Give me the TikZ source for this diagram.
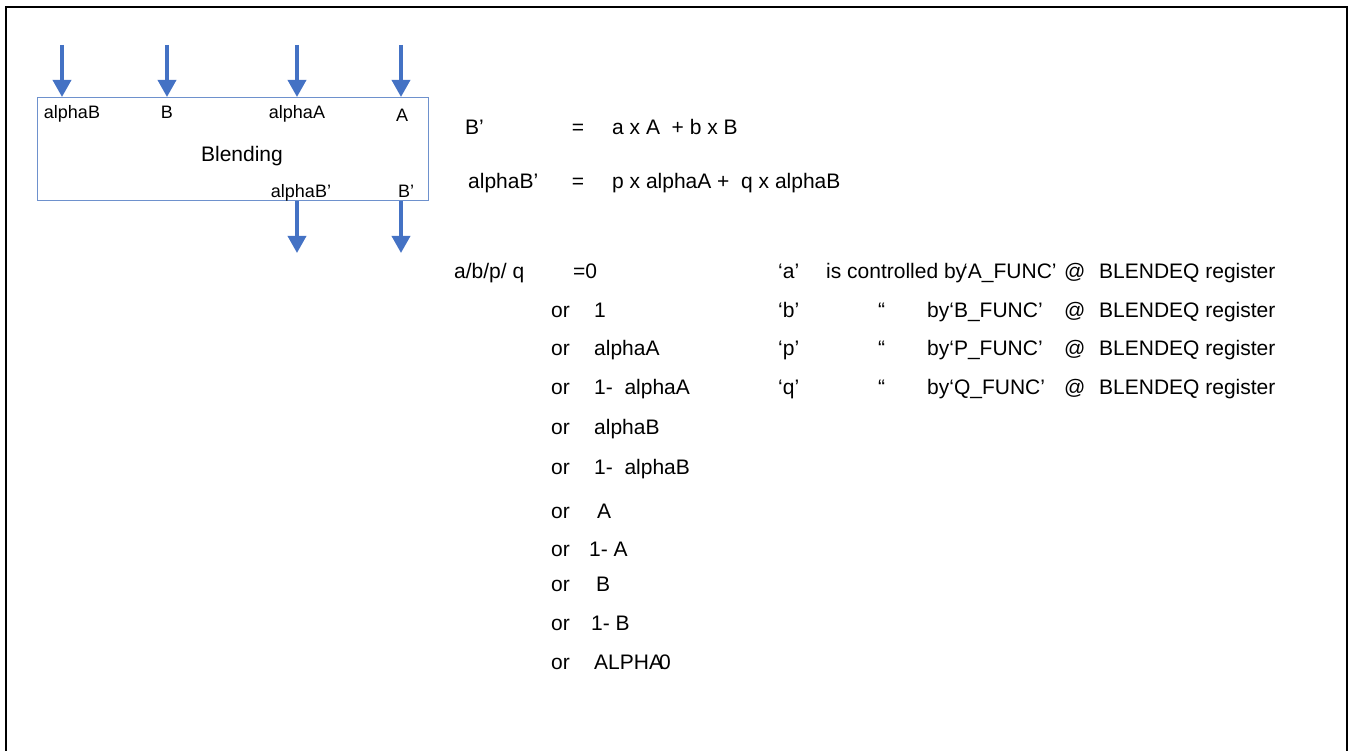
\documentclass[tikz,border=0pt]{standalone}
\usepackage{fontspec}
\setmainfont{Liberation Sans}
\usetikzlibrary{arrows.meta}
\definecolor{flowblue}{RGB}{68,114,196}
\definecolor{boxblue}{RGB}{110,145,205}
\tikzset{
  flow/.style={draw=flowblue, line width=3.5pt, -{Triangle[width=18pt,length=17pt]}},
  boxlbl/.style={font=\fontsize{18}{21}\selectfont, inner sep=0pt, anchor=base},
  eqtxt/.style={font=\fontsize{21}{25}\selectfont, inner sep=0pt, anchor=base west},
}
\begin{document}
\begin{tikzpicture}[x=1pt, y=-1pt]
  \useasboundingbox (0,0) rectangle (1353,751);
  % frame, open at the bottom
  \draw[line width=2.5pt] (6,770) -- (6,7) -- (1347,7) -- (1347,770);
  % blending block
  \node[draw=boxblue, line width=1.2pt, minimum width=391pt, minimum height=103pt, inner sep=0pt, anchor=north west] (blend) at (36.5,97) {};
  \node[font=\fontsize{21}{25}\selectfont, inner sep=0pt, anchor=base] (title) at (242,162) {Blending};
  \node[boxlbl] (lalphaB) at (72,119) {alphaB};
  \node[boxlbl] (lB) at (167,119) {B};
  \node[boxlbl] (lalphaA) at (297,119) {alphaA};
  \node[boxlbl] (lA) at (402,122) {A};
  \node[boxlbl] (lalphaBo) at (301,198) {alphaB’};
  \node[boxlbl] (lBo) at (406,198) {B’};
  % inputs and outputs
  \foreach \x/\n in {62/1, 167/2, 297/3, 401/4}
    \coordinate (in\n) at (\x,45);
  \foreach \n in {1,...,4}
    \draw[flow] (in\n) -- (in\n |- blend.north);
  \coordinate (out1) at (297,253);
  \coordinate (out2) at (401,253);
  \draw[flow] (out1 |- blend.south) -- (out1);
  \draw[flow] (out2 |- blend.south) -- (out2);
  % equations
  \node[eqtxt] (eqBl) at (465,135) {B’};
  \node[eqtxt, anchor=base] (eqBeq) at (578,135) {=};
  \node[eqtxt] (eqBr) at (612,135) {a x A \ + b x B};
  \node[eqtxt] (eqAl) at (468,189) {alphaB’};
  \node[eqtxt, anchor=base] (eqAeq) at (578,189) {=};
  \node[eqtxt] (eqAr) at (612,189) {p x alphaA + \ q x alphaB};
  % choices
  \node[eqtxt] (sel) at (454,279) {a/b/p/ q};
  \node[eqtxt] (selv) at (573,279) {=0};
  \foreach \yy/\xx/\v [count=\i] in {318/594/1, 356/594/alphaA, 395/594/1- \ alphaA,
      435/594/alphaB, 475/594/1- \ alphaB, 518/597/A, 556/589/1- A,
      591/596/B, 630/591/1- B, 669/594/ALPHA\kern-4pt0}
  {
    \node[eqtxt] (or\i) at (551,\yy) {or};
    \node[eqtxt] (val\i) at (\xx,\yy) {\v};
  }
  % controls
  \foreach \yy/\c [count=\i] in {279/a, 318/b, 356/p, 395/q}
    \node[eqtxt] (q\c) at (778,\yy) {‘\c’};
  \node[eqtxt] (ctlA) at (826,279) {is controlled by\kern-3pt‘A\_FUNC’};
  \foreach \yy/\c in {318/B, 356/P, 395/Q}
  {
    \node[eqtxt] (dit\c) at (878,\yy) {“};
    \node[eqtxt] (ctl\c) at (927,\yy) {by‘\c\_FUNC’};
  }
  \foreach \yy/\n in {279/1, 318/2, 356/3, 395/4}
  {
    \node[eqtxt] (at\n) at (1064,\yy) {@};
    \node[eqtxt] (reg\n) at (1099,\yy) {BLENDEQ register};
  }
\end{tikzpicture}
\end{document}
